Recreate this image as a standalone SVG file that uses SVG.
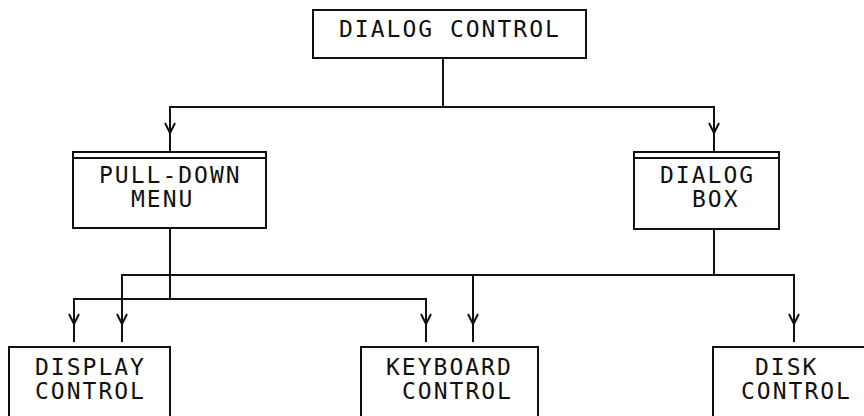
<svg xmlns="http://www.w3.org/2000/svg" width="864" height="416" viewBox="0 0 864 416">
<style>
.box{fill:none;stroke:#111;stroke-width:2}
.ln{fill:none;stroke:#111;stroke-width:2;stroke-linejoin:miter}
.ah{fill:none;stroke:#111;stroke-width:2}
text{font-family:"DejaVu Sans Mono","Liberation Mono",monospace;font-size:23px;fill:#111;letter-spacing:2px}
</style>
<rect width="864" height="416" fill="#fff"/>
<g id="dialog-control">
<rect class="box" x="313" y="10" width="273" height="48"/>
<text x="339" y="37">DIALOG CONTROL</text>
</g>
<g id="pull-down-menu">
<rect class="box" x="73" y="152" width="193" height="76"/>
<line class="box" x1="73" y1="158" x2="266" y2="158"/>
<text x="99" y="183">PULL-DOWN</text>
<text x="131" y="207">MENU</text>
</g>
<g id="dialog-box">
<rect class="box" x="634" y="152" width="145" height="77"/>
<line class="box" x1="634" y1="158" x2="779" y2="158"/>
<text x="660" y="183">DIALOG</text>
<text x="692" y="207">BOX</text>
</g>
<g id="display-control">
<rect class="box" x="9" y="347" width="161" height="90"/>
<text x="35" y="375">DISPLAY</text>
<text x="35" y="399">CONTROL</text>
</g>
<g id="keyboard-control">
<rect class="box" x="361" y="347" width="177" height="90"/>
<text x="386" y="375">KEYBOARD</text>
<text x="402" y="399">CONTROL</text>
</g>
<g id="disk-control">
<rect class="box" x="713" y="347" width="170" height="90"/>
<text x="755" y="375">DISK</text>
<text x="741" y="399">CONTROL</text>
</g>
<g id="connectors">
<path class="ln" d="M443 58V107M170 152V107H714V152"/>
<path class="ah" d="M165 123L170 133L175 123M709 123L714 133L719 123"/>
<path class="ln" d="M170 228V299M74 342V299H426V342"/>
<path class="ln" d="M714 229V275M122 342V275H794V342M473 275V342"/>
<path class="ah" d="M69 314L74 324L79 314M117 314L122 324L127 314M421 314L426 324L431 314M468 314L473 324L478 314M789 314L794 324L799 314"/>
</g>
</svg>
